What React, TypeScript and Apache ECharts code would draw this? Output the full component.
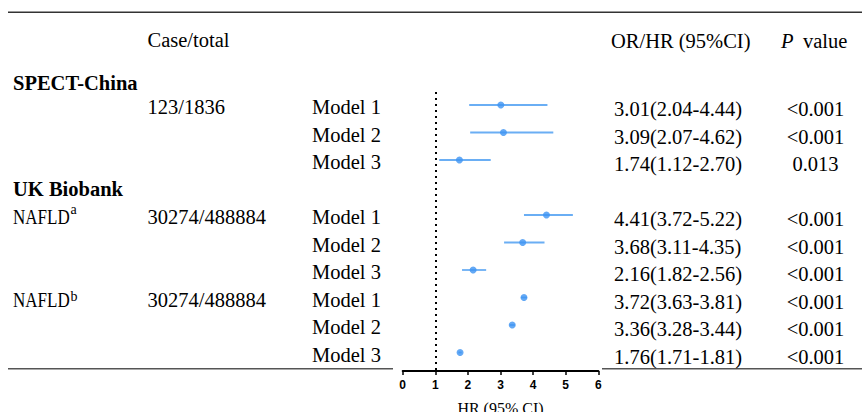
import React, { useEffect, useRef } from "react";
import * as echarts from "echarts";

// ---- data ----
const groupNames = ["SPECT-China", "UK Biobank"];
const subgroupNames = ["NAFLD", "NAFLD"];
const subgroupSups = ["a", "b"];
const caseTotals = ["123/1836", "30274/488884", "30274/488884"];
const modelNames = ["Model 1", "Model 2", "Model 3", "Model 1", "Model 2", "Model 3", "Model 1", "Model 2", "Model 3"];
const rowIndex = [0, 1, 2, 4, 5, 6, 7, 8, 9];
const orValues = [3.01, 3.09, 1.74, 4.41, 3.68, 2.16, 3.72, 3.36, 1.76];
const ciLow = [2.04, 2.07, 1.12, 3.72, 3.11, 1.82, 3.63, 3.28, 1.71];
const ciHigh = [4.44, 4.62, 2.70, 5.22, 4.35, 2.56, 3.81, 3.44, 1.81];
const pValues = ["<0.001", "<0.001", "0.013", "<0.001", "<0.001", "<0.001", "<0.001", "<0.001", "<0.001"];
const xTicks = [0, 1, 2, 3, 4, 5, 6];
const refLine = 1;

// ---- layout ----
const W = 862;
const H = 412;
const SERIF = "'Liberation Serif', 'Times New Roman', serif";
const FS = 20.5;
const GRID_TOP = 92;
const AXIS_Y = 371;
const ROW0 = 105;
const ROW_H = 27.5;
const PLOT_L = 402.7;
const PLOT_R = 598.3;

const txt = (text: string, x: number, y: number, extra: any = {}, elExtra: any = {}) => ({
  type: "text",
  x,
  y,
  silent: true,
  ...elExtra,
  style: {
    text,
    x: 0,
    y: 0,
    fill: "#000",
    fontFamily: SERIF,
    fontSize: FS,
    align: "left",
    verticalAlign: "middle",
    ...extra,
  },
});

export default function App() {
  const ref = useRef<HTMLDivElement>(null);

  useEffect(() => {
    if (!ref.current) return;
    const chart = echarts.init(ref.current, undefined, { renderer: "svg" });

    const yMin = (GRID_TOP - ROW0) / ROW_H;
    const yMax = yMin + (AXIS_Y - GRID_TOP) / ROW_H;

    const leftMid = (k: number) => ROW0 + 2.2 + ROW_H * k;
    const rightMid = (k: number) => ROW0 + 4 + ROW_H * k;

    const graphics: any[] = [];
    // rules
    graphics.push({ type: "line", silent: true, shape: { x1: 8, y1: 12.3, x2: W, y2: 12.3 }, style: { stroke: "#333", lineWidth: 1.5 } });
    graphics.push({ type: "line", silent: true, shape: { x1: 8, y1: 368.8, x2: 393, y2: 368.8 }, style: { stroke: "#555", lineWidth: 1.4 } });
    graphics.push({ type: "line", silent: true, shape: { x1: 602, y1: 368.8, x2: W, y2: 368.8 }, style: { stroke: "#555", lineWidth: 1.4 } });

    // headers
    graphics.push(txt("Case/total", 147.5, 40));
    graphics.push(txt("OR/HR (95%CI)", 611, 40.5));
    graphics.push(txt("P", 781, 40.5, { fontStyle: "italic" }));
    graphics.push(txt("value", 803, 40.5));

    // group headers
    graphics.push(txt(groupNames[0], 13, 83, { fontWeight: "bold" }));
    graphics.push(txt(groupNames[1], 13, 189, { fontWeight: "bold" }));

    // case/total & subgroups
    graphics.push(txt(caseTotals[0], 147.5, leftMid(0)));
    graphics.push(txt(caseTotals[1], 147.5, leftMid(4)));
    graphics.push(txt(caseTotals[2], 147.5, leftMid(7)));
    graphics.push(txt(subgroupNames[0], 13, leftMid(4), {}, { scaleX: 0.83 }));
    graphics.push(txt(subgroupSups[0], 70.5, 209.6, { fontSize: 14 }));
    graphics.push(txt(subgroupNames[1], 13, leftMid(7), {}, { scaleX: 0.83 }));
    graphics.push(txt(subgroupSups[1], 70.5, 296.6, { fontSize: 14 }));

    // per-row texts
    rowIndex.forEach((k, i) => {
      graphics.push(txt(modelNames[i], 312, leftMid(k)));
      graphics.push(
        txt(`${orValues[i].toFixed(2)}(${ciLow[i].toFixed(2)}-${ciHigh[i].toFixed(2)})`, 614, rightMid(k))
      );
      graphics.push(txt(pValues[i], 815.5, rightMid(k), { align: "center" }));
    });

    const ciData = rowIndex.map((k, i) => [ciLow[i], ciHigh[i], k]);
    const ptData = rowIndex.map((k, i) => [orValues[i], k]);

    chart.setOption({
      animation: false,
      grid: {
        left: PLOT_L,
        right: W - PLOT_R,
        top: GRID_TOP,
        bottom: H - AXIS_Y,
        containLabel: false,
        outerBoundsMode: "none",
      },
      xAxis: {
        type: "value",
        position: "bottom",
        min: xTicks[0],
        max: xTicks[xTicks.length - 1],
        interval: 1,
        axisLine: { show: true, onZero: false, lineStyle: { color: "#000", width: 2 } },
        axisTick: { show: true, inside: false, length: 4, lineStyle: { color: "#000", width: 1.5 } },
        axisLabel: {
          show: true,
          color: "#000",
          fontFamily: "'Liberation Sans', Arial, sans-serif",
          fontWeight: "bold",
          fontSize: 12,
          margin: 8,
        },
        splitLine: { show: false },
        name: "HR (95% CI)",
        nameLocation: "middle",
        nameGap: 29,
        nameTextStyle: { color: "#000", fontFamily: SERIF, fontSize: 16 },
      },
      yAxis: {
        type: "value",
        inverse: true,
        min: yMin,
        max: yMax,
        show: false,
        splitLine: { show: false },
      },
      series: [
        {
          type: "custom",
          data: ciData,
          encode: { x: [0, 1], y: 2 },
          silent: true,
          renderItem: (params: any, api: any) => {
            const p1 = api.coord([api.value(0), api.value(2)]);
            const p2 = api.coord([api.value(1), api.value(2)]);
            return {
              type: "line",
              shape: { x1: p1[0], y1: p1[1], x2: p2[0], y2: p2[1] },
              style: { stroke: "#6aaef4", lineWidth: 1.8 },
            };
          },
          z: 2,
        },
        {
          type: "scatter",
          data: ptData,
          symbol: "circle",
          symbolSize: 7,
          itemStyle: { color: "#3d93f2" },
          silent: true,
          z: 3,
          markLine: {
            silent: true,
            symbol: "none",
            label: { show: false },
            lineStyle: { color: "#000", width: 2, type: [2, 4] },
            data: [{ xAxis: refLine }],
            z: 1,
          },
        },
      ],
      graphic: { elements: graphics },
    });

    return () => chart.dispose();
  }, []);

  return (
    <div
      ref={ref}
      style={{ position: "fixed", left: 0, top: 0, width: W, height: H, background: "#fff" }}
    />
  );
}
